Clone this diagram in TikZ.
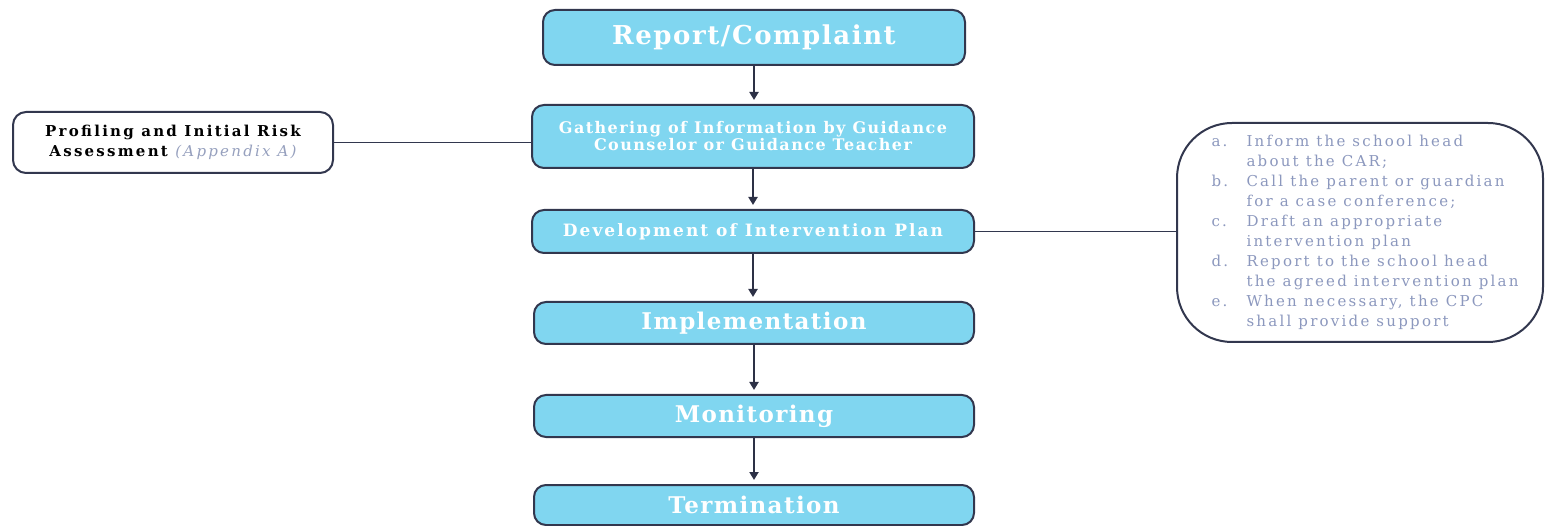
\documentclass[tikz,border=0pt]{standalone}
\usepackage{fontspec}
\setmainfont{DejaVu Serif}
\newfontfamily\bigfont[LetterSpace=6]{DejaVu Serif}
\newfontfamily\gatfont[LetterSpace=9]{DejaVu Serif}
\newfontfamily\devfont[LetterSpace=12]{DejaVu Serif}
\newfontfamily\sidefont[LetterSpace=15]{DejaVu Serif}
\newfontfamily\listfont[LetterSpace=15]{DejaVu Serif}
\usetikzlibrary{arrows.meta}
\definecolor{boxfill}{RGB}{128,214,240}
\definecolor{boxline}{RGB}{50,55,78}
\definecolor{listtext}{RGB}{140,152,190}
\definecolor{apptext}{RGB}{150,160,190}
\begin{document}
\begin{tikzpicture}[x=1pt,y=-1pt,
  stepbox/.style={draw=boxline,line width=2pt,fill=boxfill,rounded corners=12pt,
    inner sep=0pt,text=white,align=center,minimum width=442pt},
  sidebox/.style={draw=boxline,line width=2pt,fill=white,rounded corners=13pt,
    inner sep=0pt,align=center},
  flow/.style={draw=boxline!90!black,line width=2.2pt,-{Triangle[length=8pt,width=9pt]},shorten >=4pt},
  link/.style={draw=boxline,line width=1.6pt}]
\useasboundingbox (0,0) rectangle (1545,526);
\node[stepbox,minimum width=422pt,minimum height=55pt,
  font=\bigfont\bfseries\fontsize{26}{30}\selectfont] (rep) at (754,37.5) {Report/Complaint};
\node[stepbox,minimum height=63pt,
  font=\gatfont\bfseries\fontsize{16}{17}\selectfont] (gat) at (753,136.5)
  {Gathering of Information by Guidance\\Counselor or Guidance Teacher};
\node[stepbox,minimum height=43pt,
  font=\devfont\bfseries\fontsize{17}{20}\selectfont] (dev) at (753,231.5)
  {Development of Intervention Plan};
\node[stepbox,minimum width=440pt,minimum height=42pt,
  font=\bigfont\bfseries\fontsize{23}{26}\selectfont] (imp) at (754,323) {Implementation};
\node[stepbox,minimum width=440pt,minimum height=42pt,
  font=\bigfont\bfseries\fontsize{23}{26}\selectfont] (mon) at (754,416) {Monitoring};
\node[stepbox,minimum width=440pt,minimum height=40pt,
  font=\bigfont\bfseries\fontsize{23}{26}\selectfont] (ter) at (754,505) {Termination};
\node[sidebox,minimum width=320pt,minimum height=61pt,
  font=\sidefont\bfseries\fontsize{15}{20}\selectfont] (prof) at (173,142.5)
  {Profiling and Initial Risk\\
   Assessment {\mdseries\itshape\color{apptext}(Appendix A)}};
\node[sidebox,rounded corners=55pt,minimum width=366pt,minimum height=219pt,
  text=listtext,align=left,font=\listfont\fontsize{15}{20}\selectfont] (list) at (1360,232.5)
  {\begin{tabular}{@{\hspace{10pt}}p{35pt}@{}l@{}}
   a. & Inform the school head\\
      & about the CAR;\\
   b. & Call the parent or guardian\\
      & for a case conference;\\
   c. & Draft an appropriate\\
      & intervention plan\\
   d. & Report to the school head\\
      & the agreed intervention plan\\
   e. & When necessary, the CPC\\
      & shall provide support
   \end{tabular}};
\draw[flow] (rep.south) -- (rep.south |- gat.north);
\draw[flow] (gat) -- (dev);
\draw[flow] (dev.south) -- (dev.south |- imp.north);
\draw[flow] (imp) -- (mon);
\draw[flow] (mon) -- (ter);
\draw[link] (prof.east) -- (prof.east -| gat.west);
\draw[link] (dev.east) -- (dev.east -| list.west);
\end{tikzpicture}
\end{document}
